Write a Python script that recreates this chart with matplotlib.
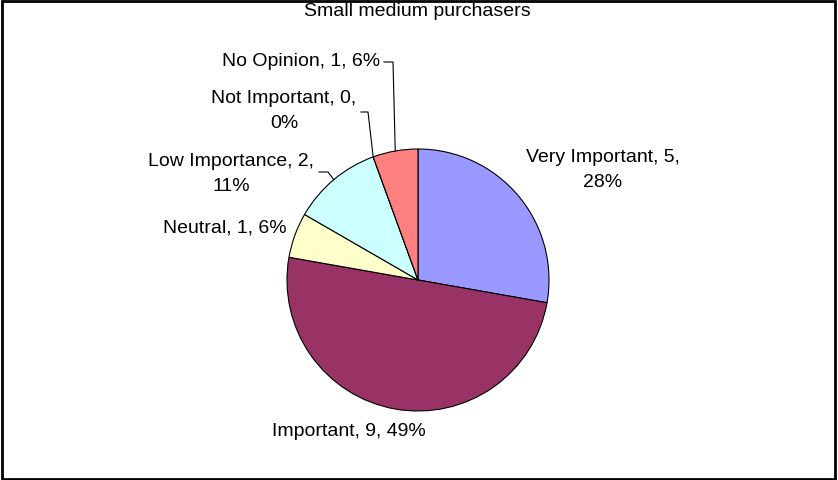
import matplotlib
matplotlib.use("Agg")
import matplotlib.pyplot as plt
from matplotlib.patches import Rectangle
import numpy as np

plt.rcParams['font.family'] = ['Liberation Sans', 'DejaVu Sans']

# data
categories = ['Very Important', 'Important', 'Neutral', 'Low Importance',
              'Not Important', 'No Opinion']
counts = [5, 9, 1, 2, 0, 1]
pct_labels = [28, 49, 6, 11, 0, 6]
colors = ['#9999FF', '#993366', '#FFFFCC', '#CCFFFF', '#660066', '#FF8080']
title = 'Small medium purchasers'

W, H = 838, 480
fig = plt.figure(figsize=(W / 100, H / 100), dpi=100)
ax = fig.add_axes([0, 0, 1, 1])

def Y(y):
    # image pixel row -> data y
    return H - y

cx, cy, r = 418, Y(280), 131
wedges, _ = ax.pie(counts, colors=colors, startangle=90, counterclock=False,
                   center=(cx, cy), radius=r,
                   wedgeprops=dict(edgecolor='black', linewidth=0.8))
ax.set_xlim(0, W)
ax.set_ylim(0, H)
ax.set_aspect('equal')
ax.axis('off')

fs = 14
ax.text(417, Y(12), title, ha='center', va='center', fontsize=fs)

# label text positions (pixel coords) and line breaks
label_pos = [(603, 170), (349, 432), (225, 228), (231, 174), (284, 111), (301, 62)]
wrap = [True, False, False, True, True, False]
for i, name in enumerate(categories):
    sep = ',\n' if wrap[i] else ', '
    txt = f'{name}, {counts[i]}{sep}{pct_labels[i]}%'
    x, y = label_pos[i]
    ax.text(x, Y(y), txt, ha='center', va='center', fontsize=fs,
            multialignment='center', linespacing=1.55)

def edge_point(w):
    ang = np.deg2rad((w.theta1 + w.theta2) / 2)
    return cx + r * np.cos(ang), cy + r * np.sin(ang)

# leader lines: (wedge index, [start points in pixel coords])
leaders = [(3, [(319, 172), (328, 172)]),
           (4, [(361, 112), (368, 112)]),
           (5, [(384, 62), (393, 62)])]
for idx, pts in leaders:
    ex, ey = edge_point(wedges[idx])
    xs = [p[0] for p in pts] + [ex]
    ys = [Y(p[1]) for p in pts] + [ey]
    ax.plot(xs, ys, color='black', linewidth=0.8)

fig.patches.append(Rectangle((0.002, 0.003), 0.995, 0.994, transform=fig.transFigure,
                             fill=False, edgecolor='black', linewidth=2))

fig.savefig('out.png', dpi=100)
